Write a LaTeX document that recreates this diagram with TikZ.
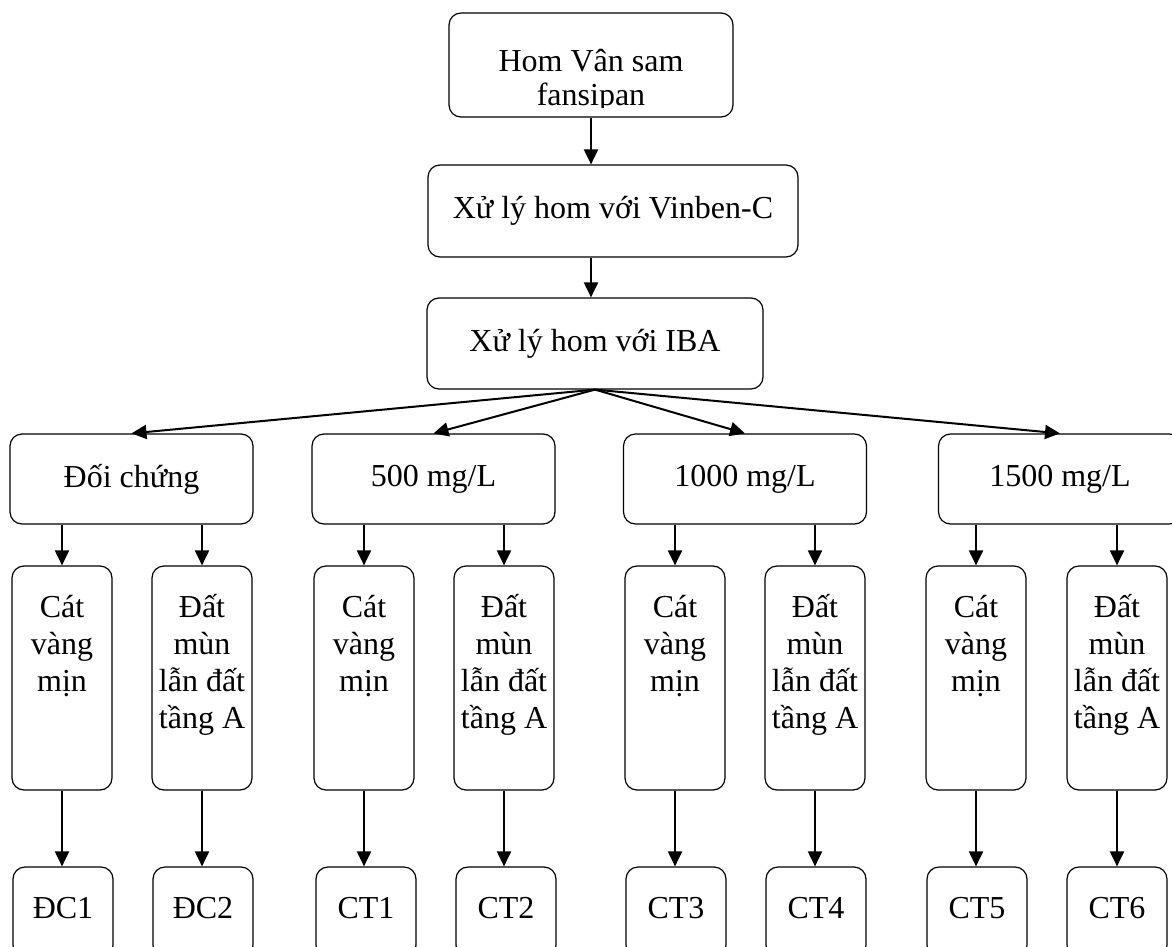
\documentclass[tikz,border=0pt]{standalone}
\usepackage{fontspec}
\setmainfont{Liberation Serif}
\usetikzlibrary{arrows.meta}

\newcommand\soiltext[1]{\parbox[c][86pt][t]{50pt}{\centering\strut #1}}

\begin{document}
\begin{tikzpicture}[x=0.5pt,y=-0.5pt,font=\fontsize{16pt}{18.4pt}\selectfont,
    box/.style={draw,rounded corners=6pt,line width=0.6pt,inner sep=0pt,align=center},
    wide/.style={box,minimum width=121.5pt,minimum height=45pt},
    tall/.style={box,minimum width=50pt,minimum height=112pt},
    leaf/.style={box,minimum width=50pt,minimum height=45pt,text height=11pt,text depth=4.5pt},
    arr/.style={-{Triangle[length=7.5pt,width=7pt]},line width=1pt}]
    \useasboundingbox (0,0) rectangle (1172,947);
    \clip (0,0) rectangle (1172,947);

    % main chain
    \node[box,minimum width=142pt,minimum height=52pt] (top) at (591,65) {};
    \begin{scope}
        \clip (top.north west) rectangle ([yshift=5pt]top.south east);
        \node[inner sep=0pt,align=center,font=\fontsize{16pt}{16.8pt}\selectfont] (toptext) at (591,81) {Hom Vân sam\\fansipan};
    \end{scope}
    \node[box,minimum width=185pt,minimum height=46pt] (vinben) at (613,211) {Xử lý hom với Vinben-C};
    \node[box,minimum width=168pt,minimum height=45.5pt] (iba) at (595,343.5) {Xử lý hom với IBA};

    % doses
    \node[wide] (dc) at (131.5,479) {Đối chứng};
    \node[wide] (c500) at (433.5,479) {500 mg/L};
    \node[wide] (c1000) at (745,479) {1000 mg/L};
    \node[wide] (c1500) at (1060,479) {1500 mg/L};

    % substrates
    \node[tall] (sand1) at (62,678) {\soiltext{Cát\\vàng\\mịn}};
    \node[tall] (soil1) at (202,678) {\soiltext{Đất\\mùn\\lẫn đất\\tầng A}};
    \node[tall] (sand2) at (364,678) {\soiltext{Cát\\vàng\\mịn}};
    \node[tall] (soil2) at (504,678) {\soiltext{Đất\\mùn\\lẫn đất\\tầng A}};
    \node[tall] (sand3) at (675,678) {\soiltext{Cát\\vàng\\mịn}};
    \node[tall] (soil3) at (815,678) {\soiltext{Đất\\mùn\\lẫn đất\\tầng A}};
    \node[tall] (sand4) at (976,678) {\soiltext{Cát\\vàng\\mịn}};
    \node[tall] (soil4) at (1117,678) {\soiltext{Đất\\mùn\\lẫn đất\\tầng A}};

    % treatments
    \node[leaf] (dc1) at (63,912) {ĐC1};
    \node[leaf] (dc2) at (203,912) {ĐC2};
    \node[leaf] (ct1) at (366,912) {CT1};
    \node[leaf] (ct2) at (506,912) {CT2};
    \node[leaf] (ct3) at (676,912) {CT3};
    \node[leaf] (ct4) at (816,912) {CT4};
    \node[leaf] (ct5) at (977,912) {CT5};
    \node[leaf] (ct6) at (1117,912) {CT6};

    % arrows
    \draw[arr] (top.south) -- (top.south |- vinben.north);
    \draw[arr] (top.south |- vinben.south) -- (top.south |- iba.north);
    \draw[arr] (iba.south) -- (dc.north);
    \draw[arr] (iba.south) -- (c500.north);
    \draw[arr] (iba.south) -- (c1000.north);
    \draw[arr] (iba.south) -- (c1500.north);

    \draw[arr] (sand1.north |- dc.south) -- (sand1.north);
    \draw[arr] (soil1.north |- dc.south) -- (soil1.north);
    \draw[arr] (sand2.north |- c500.south) -- (sand2.north);
    \draw[arr] (soil2.north |- c500.south) -- (soil2.north);
    \draw[arr] (sand3.north |- c1000.south) -- (sand3.north);
    \draw[arr] (soil3.north |- c1000.south) -- (soil3.north);
    \draw[arr] (sand4.north |- c1500.south) -- (sand4.north);
    \draw[arr] (soil4.north |- c1500.south) -- (soil4.north);

    \draw[arr] (sand1.south) -- (sand1.south |- dc1.north);
    \draw[arr] (soil1.south) -- (soil1.south |- dc2.north);
    \draw[arr] (sand2.south) -- (sand2.south |- ct1.north);
    \draw[arr] (soil2.south) -- (soil2.south |- ct2.north);
    \draw[arr] (sand3.south) -- (sand3.south |- ct3.north);
    \draw[arr] (soil3.south) -- (soil3.south |- ct4.north);
    \draw[arr] (sand4.south) -- (sand4.south |- ct5.north);
    \draw[arr] (soil4.south) -- (soil4.south |- ct6.north);
\end{tikzpicture}
\end{document}
